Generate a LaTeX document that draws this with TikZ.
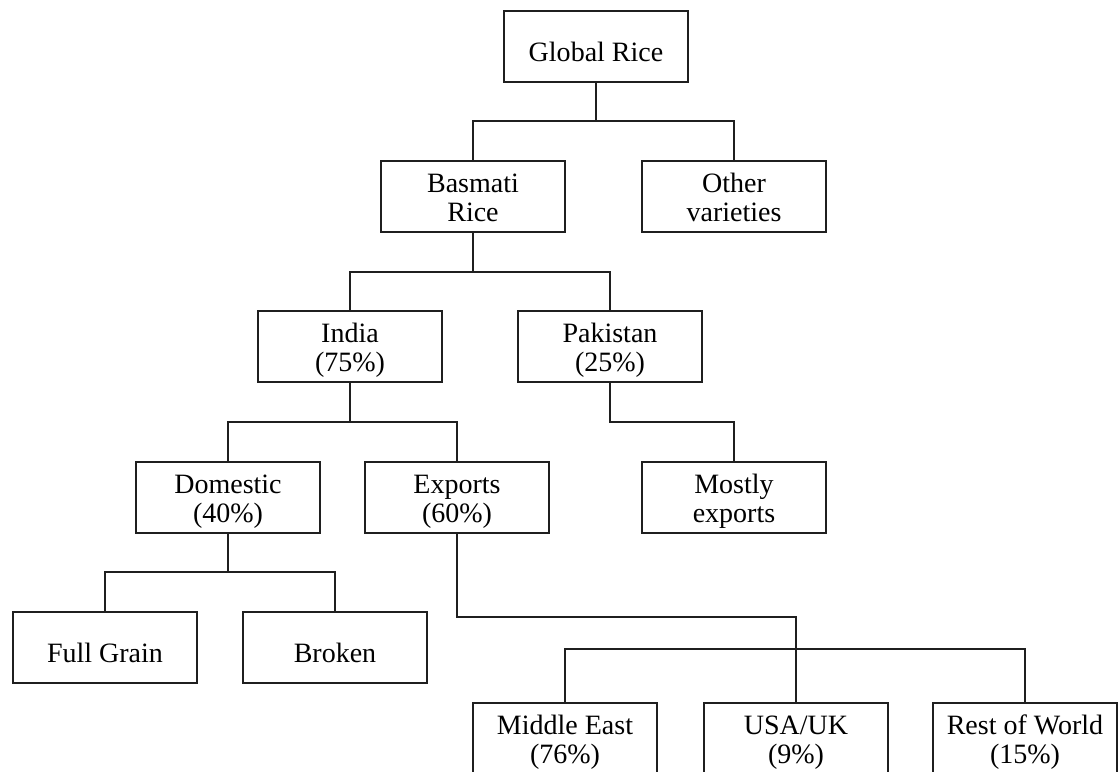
\documentclass[tikz,border=0pt]{standalone}
\usepackage{fontspec}
\setmainfont{Liberation Serif}
\begin{document}
\begin{tikzpicture}[x=1pt,y=-1pt,
  box/.style={draw=black!88, line width=2pt, minimum width=184pt, minimum height=71pt,
    inner sep=0pt, align=center, font=\fontsize{28}{29}\selectfont},
  one/.style={box, text height=29pt, text depth=0pt},
  two/.style={box, text height=57.7pt},
  conn/.style={draw=black!88, line width=2pt}]
\useasboundingbox (0,0) rectangle (1118,771);
\fill[white] (0,0) rectangle (1118,771);
% nodes
\node[one] (gr) at (596,46.5) {Global Rice};
\node[two] (br) at (473,196.5) {\strut Basmati\\\strut Rice};
\node[two] (ov) at (734,196.5) {\strut Other\\\strut varieties};
\node[two] (in) at (350,346.5) {\strut India\\\strut (75\%)};
\node[two] (pk) at (610,346.5) {\strut Pakistan\\\strut (25\%)};
\node[two] (dom) at (228,497.5) {\strut Domestic\\\strut (40\%)};
\node[two] (exp) at (457,497.5) {\strut Exports\\\strut (60\%)};
\node[two] (mo) at (734,497.5) {\strut Mostly\\\strut exports};
\node[one] (fg) at (105,647.5) {Full Grain};
\node[one] (bk) at (335,647.5) {Broken};
\node[two] (mde) at (565,738.5) {\strut Middle East\\\strut (76\%)};
\node[two] (us) at (796,738.5) {\strut USA/UK\\\strut (9\%)};
\node[two] (rw) at (1025,738.5) {\strut Rest of World\\\strut (15\%)};
% junctions
\coordinate (j0) at (596,121);
\coordinate (j1) at (473,272);
\coordinate (j2) at (350,422);
\coordinate (j3) at (610,422);
\coordinate (j4) at (228,572);
\coordinate (j5) at (457,617);
\coordinate (j6) at (796,649);
% connectors
\draw[conn] (gr.south) -- (j0);
\draw[conn] (br.north) |- (j0) -| (ov.north);
\draw[conn] (br.south) -- (j1);
\draw[conn] (in.north) |- (j1) -| (pk.north);
\draw[conn] (in.south) -- (j2);
\draw[conn] (dom.north) |- (j2) -| (exp.north);
\draw[conn] (pk.south) -- (j3) -| (mo.north);
\draw[conn] (dom.south) -- (j4);
\draw[conn] (fg.north) |- (j4) -| (bk.north);
\draw[conn] (exp.south) -- (j5) -| (us.north);
\draw[conn] (mde.north) |- (j6) -| (rw.north);
\end{tikzpicture}
\end{document}
